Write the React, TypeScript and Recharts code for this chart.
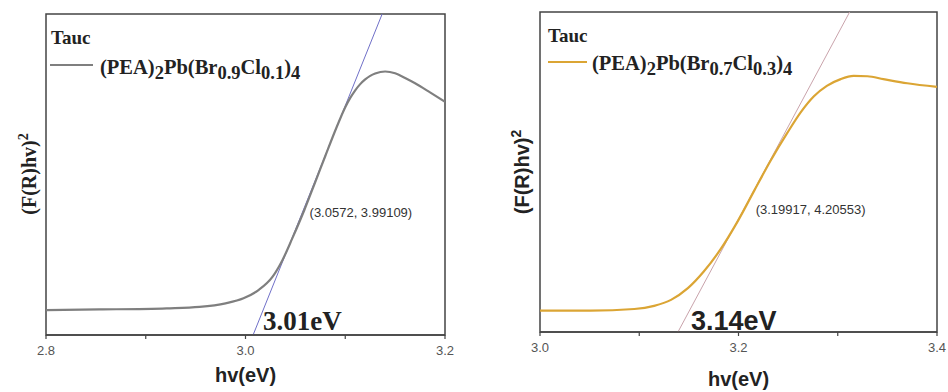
import { LineChart, Line, XAxis, YAxis, ReferenceDot, ReferenceArea } from "recharts";

// left panel: (PEA)2Pb(Br0.9Cl0.1)4
const leftX = [2.8, 2.854, 2.921, 2.954, 2.98, 2.998, 3.013, 3.027, 3.037, 3.047, 3.059, 3.07, 3.08, 3.09, 3.095, 3.1, 3.105, 3.11, 3.115, 3.12, 3.125, 3.13, 3.14, 3.15, 3.16, 3.17, 3.185, 3.2];
const leftY = [0.65, 0.67, 0.71, 0.76, 0.88, 1.05, 1.33, 1.78, 2.35, 3.1, 4.06, 5.02, 5.9, 6.77, 7.18, 7.56, 7.88, 8.14, 8.35, 8.51, 8.63, 8.71, 8.78, 8.72, 8.56, 8.38, 8.07, 7.75];
const leftTangentX = [3.0076, 3.137];
const leftTangentY = [-0.2, 10.74];
const leftPoint = { x: 3.0572, y: 3.99109 };
const leftTicks = [2.8, 2.9, 3.0, 3.1, 3.2];
const leftLabelled = [2.8, 3.0, 3.2];

// right panel: (PEA)2Pb(Br0.7Cl0.3)4
const rightX = [3.0, 3.051, 3.095, 3.115, 3.132, 3.149, 3.165, 3.182, 3.199, 3.216, 3.232, 3.249, 3.263, 3.276, 3.289, 3.303, 3.316, 3.33, 3.346, 3.37, 3.4];
const rightY = [0.76, 0.76, 0.82, 0.94, 1.17, 1.62, 2.26, 3.12, 4.18, 5.38, 6.5, 7.58, 8.4, 9.0, 9.4, 9.66, 9.78, 9.77, 9.66, 9.5, 9.36];
const rightTangentX = [3.139, 3.312];
const rightTangentY = [-0.065, 12.24];
const rightPoint = { x: 3.19917, y: 4.20553 };
const rightTicks = [3.0, 3.1, 3.2, 3.3, 3.4];
const rightLabelled = [3.0, 3.2, 3.4];

const frame = "#444";
const serif = "Liberation Serif";
const sans = "Liberation Sans";

const zip = (xs: number[], ys: number[]) => xs.map((x, i) => ({ x, y: ys[i] }));

const makeTick = (labelled: number[]) => (props: any) => {
  const { x, y, payload } = props;
  const major = labelled.some((v) => Math.abs(v - payload.value) < 1e-6);
  return (
    <g>
      <line x1={x} x2={x} y1={y} y2={y + 4} stroke={frame} strokeWidth={1.2} />
      {major && (
        <text x={x} y={y + 20} textAnchor="middle" fontSize={13} style={{ fontFamily: sans }} fill="#555">
          {payload.value.toFixed(1)}
        </text>
      )}
    </g>
  );
};

type PanelProps = {
  left: number;
  margin: { top: number; right: number; bottom: number; left: number };
  xDomain: [number, number];
  yDomain: [number, number];
  curve: { x: number; y: number }[];
  tangent: { x: number; y: number }[];
  point: { x: number; y: number };
  pointLabel: string;
  labelDx: number;
  labelDy: number;
  ticks: number[];
  labelled: number[];
  color: string;
  tangentColor: string;
};

function Panel(p: PanelProps) {
  return (
    <div style={{ position: "absolute", left: p.left, top: 0 }}>
      <LineChart width={474} height={392} margin={p.margin}>
        <XAxis
          dataKey="x"
          type="number"
          domain={p.xDomain}
          ticks={p.ticks}
          allowDataOverflow
          height={30}
          tickLine={false}
          tickSize={0}
          tickMargin={0}
          tick={makeTick(p.labelled)}
          axisLine={{ stroke: frame, strokeWidth: 1.5 }}
        />
        <YAxis type="number" domain={p.yDomain} allowDataOverflow hide />
        <ReferenceArea
          x1={p.xDomain[0]}
          x2={p.xDomain[1]}
          y1={p.yDomain[0]}
          y2={p.yDomain[1]}
          fill="none"
          stroke={frame}
          strokeWidth={1.5}
          ifOverflow="visible"
        />
        <Line data={p.tangent} dataKey="y" type="linear" stroke={p.tangentColor} strokeWidth={1} dot={false} isAnimationActive={false} />
        <Line data={p.curve} dataKey="y" type="monotone" stroke={p.color} strokeWidth={2.2} dot={false} isAnimationActive={false} />
        <ReferenceDot
          x={p.point.x}
          y={p.point.y}
          r={0}
          stroke="none"
          fill="none"
          label={{
            content: (lp: any) => (
              <text x={lp.viewBox.x + p.labelDx} y={lp.viewBox.y + p.labelDy} fontSize={13} style={{ fontFamily: sans }} fill="#333">
                {p.pointLabel}
              </text>
            ),
          }}
        />
      </LineChart>
    </div>
  );
}

const serifBold = { fontFamily: serif, fontWeight: 700 };
const sansBold = { fontFamily: sans, fontWeight: 700 };

export default function App() {
  return (
    <div style={{ position: "absolute", left: 0, top: 0, width: 948, height: 392, background: "#fff" }}>
      <Panel
        left={0}
        margin={{ top: 14, right: 29, bottom: 27, left: 46 }}
        xDomain={[2.8, 3.2]}
        yDomain={[-0.2, 10.74]}
        curve={zip(leftX, leftY)}
        tangent={zip(leftTangentX, leftTangentY)}
        point={leftPoint}
        pointLabel="(3.0572, 3.99109)"
        labelDx={7}
        labelDy={5}
        ticks={leftTicks}
        labelled={leftLabelled}
        color="#7f7f7f"
        tangentColor="#7070c8"
      />
      <Panel
        left={474}
        margin={{ top: 12, right: 11, bottom: 30, left: 66 }}
        xDomain={[3.0, 3.4]}
        yDomain={[-0.065, 12.24]}
        curve={zip(rightX, rightY)}
        tangent={zip(rightTangentX, rightTangentY)}
        point={rightPoint}
        pointLabel="(3.19917, 4.20553)"
        labelDx={18}
        labelDy={-7}
        ticks={rightTicks}
        labelled={rightLabelled}
        color="#dba534"
        tangentColor="#c9a3ab"
      />
      <svg width={948} height={392} style={{ position: "absolute", left: 0, top: 0, pointerEvents: "none" }}>
        {/* left panel texts */}
        <text x={51} y={44} style={serifBold} fontSize={19} fill="#222">Tauc</text>
        <line x1={50} x2={93} y1={65} y2={65} stroke="#7f7f7f" strokeWidth={2.2} />
        <text x={100} y={74} style={serifBold} fontSize={20.5} fill="#222">
          (PEA)<tspan fontSize={18.5} dy={5}>2</tspan>
          <tspan dy={-5}>Pb(Br</tspan><tspan fontSize={18.5} dy={5}>0.9</tspan>
          <tspan dy={-5}>Cl</tspan><tspan fontSize={18.5} dy={5}>0.1</tspan>
          <tspan dy={-5}>)</tspan><tspan fontSize={18.5} dy={5}>4</tspan>
        </text>
        <text x={263} y={330} style={serifBold} fontSize={27} fill="#222">3.01eV</text>
        <text transform="translate(36,174) rotate(-90)" textAnchor="middle" style={serifBold} fontSize={20} fill="#222">
          (F(R)hv)<tspan fontSize={14} dy={-8}>2</tspan>
        </text>
        <text x={245.5} y={382} textAnchor="middle" style={sansBold} fontSize={20} fill="#222">hv(eV)</text>

        {/* right panel texts */}
        <text x={548} y={42} style={serifBold} fontSize={19} fill="#222">Tauc</text>
        <line x1={548} x2={587} y1={62} y2={62} stroke="#dba534" strokeWidth={2.2} />
        <text x={592} y={70} style={serifBold} fontSize={20.5} fill="#222">
          (PEA)<tspan fontSize={18.5} dy={5}>2</tspan>
          <tspan dy={-5}>Pb(Br</tspan><tspan fontSize={18.5} dy={5}>0.7</tspan>
          <tspan dy={-5}>Cl</tspan><tspan fontSize={18.5} dy={5}>0.3</tspan>
          <tspan dy={-5}>)</tspan><tspan fontSize={18.5} dy={5}>4</tspan>
        </text>
        <text x={691} y={330} style={sansBold} fontSize={27} fill="#222">3.14eV</text>
        <text transform="translate(529,172) rotate(-90)" textAnchor="middle" style={sansBold} fontSize={20} fill="#222">
          (F(R)hv)<tspan fontSize={14} dy={-8}>2</tspan>
        </text>
        <text x={738.5} y={386} textAnchor="middle" style={sansBold} fontSize={20} fill="#222">hv(eV)</text>
      </svg>
    </div>
  );
}
